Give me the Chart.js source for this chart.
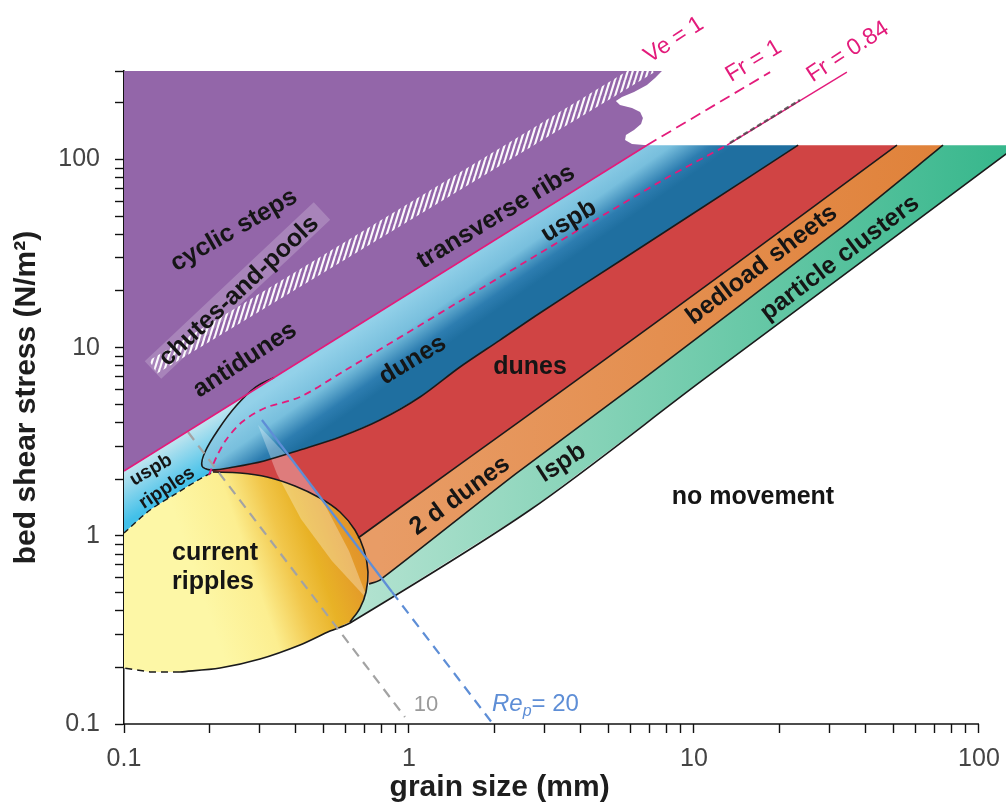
<!DOCTYPE html>
<html>
<head>
<meta charset="utf-8">
<script src="https://cdn.jsdelivr.net/npm/chart.js@4.4.1/dist/chart.umd.min.js"></script>
<style>
  html, body { margin: 0; padding: 0; background: #fff; }
</style>
</head>
<body>
<canvas id="chart" width="1006" height="803"></canvas>
<script>
// Bedform stability fields: grain size (mm) vs bed shear stress (N/m2)

// --- axes ---
const xRange = [0.1, 124.4];          // plot runs a bit past 100 mm
const yRange = [0.1, 295];
const majorTicks = [0.1, 1, 10, 100];
const minorSteps = [2, 3, 4, 5, 6, 7, 8, 9];

// --- boundaries, [grain size mm, shear stress N/m2] ---
const pinkLine = [[0.1, 2.21], [6.84, 119]];
const fr1Dashed = [[6.84, 119], [18.5, 291]];
const purpleEdge = [[7.72, 295], [7.30, 270.7], [6.84, 248.5], [6.16, 228.1], [5.59, 214.6], [5.32, 204.3], [5.50, 194.5], [6.06, 187.6], [6.47, 178.6], [6.62, 166], [6.52, 154.2], [6.16, 143.3], [5.77, 134.8], [5.73, 126.8], [6.06, 120.7], [6.84, 119]];
const duneBase = [[23.2, 119], [10.5, 54.5], [5.50, 28.85], [2.881, 15.28], [2.086, 10.97], [1.51, 7.89], [1.093, 5.464], [0.791, 4.124], [0.5728, 3.35], [0.4145, 2.857], [0.3099, 2.498], [0.2432, 2.321], [0.2019, 2.237]];
const tongueTip = [0.1878, 2.349];
const tongueUpper = [[0.1924, 2.788], [0.2137, 3.65], [0.2472, 4.89], [0.2905, 6.18], [0.336, 6.94]];
const redBase = [[51.55, 119], [14.16, 28.1], [3.886, 6.73], [1.547, 2.466], [0.6627, 0.9735]];
const orangeBase = [[74.8, 119], [32.5, 42.7], [6.57, 6.73], [2.393, 2.157], [0.791, 0.582], [0.7238, 0.5546]];
const greenBase = [[137, 119], [10.75, 6.73], [2.658, 1.371], [0.6209, 0.344]];
const rippleUpperLeft = [[0.1, 1.035], [0.1234, 1.371], [0.1535, 1.688], [0.1848, 2.004], [0.2052, 2.183]];
const rippleRight = [[0.2052, 2.183], [0.2553, 2.157], [0.3176, 2.053], [0.398, 1.839], [0.4873, 1.588], [0.5728, 1.338], [0.6462, 1.073], [0.6952, 0.8406], [0.7180, 0.6422], [0.7067, 0.5028], [0.6732, 0.4134], [0.6209, 0.348]];
const rippleBase = [[0.5283, 0.312], [0.4145, 0.263], [0.3001, 0.2215], [0.2172, 0.1984], [0.1572, 0.189], [0.1234, 0.189], [0.1, 0.1984]];
const fr084Dashed = [[0.1987, 2.104], [0.2103, 2.591], [0.228, 3.228], [0.2594, 4.025], [0.3124, 4.776], [0.4145, 5.464], [0.5913, 7.51], [2.086, 23.7], [7.78, 77.7], [13.06, 119]];
const fr084Solid = [[13.06, 119], [34.4, 291]];
const fr084Grey = [[13.37, 122.3], [23.55, 206.9]];
const rep10 = [[0.1677, 3.56], [0.968, 0.1089]];
const rep20Solid = [[0.3048, 4.124], [0.8717, 0.5028]];
const rep20Dashed = [[0.8717, 0.5028], [1.971, 0.1]];
const stepHatch = [[0.1265, 7.89], [7.01, 313.6]];
const chutesBox = [[0.1264, 7.60], [0.495, 53.2]];
const transition = [[0.2953, 3.88], [0.3949, 2.437], [0.5074, 1.458], [0.616, 0.8301], [0.718, 0.456], [0.5369, 0.7348], [0.4178, 1.228], [0.3441, 2.13]];

// --- labels: text, grain size, shear stress, angle ---
const fieldLabels = [
  ['cyclic steps', 0.243, 42.0, -30],
  ['chutes-and-pools', 0.2532, 20.0, -43],
  ['antidunes', 0.2658, 8.59, -33],
  ['transverse ribs', 2.02, 49.5, -31],
  ['uspb', 3.64, 47.0, -31],
  ['dunes', 1.03, 8.59, -31],
  ['dunes', 2.658, 7.89, 0],
  ['bedload sheets', 17.3, 27.5, -37],
  ['particle clusters', 32.5, 29.9, -37],
  ['2 d dunes', 1.51, 1.63, -36],
  ['lspb', 3.44, 2.437, -33],
  ['no movement', 16.1, 1.608, 0]
];
const rippleLabels = [['current', 0.1474, 0.81], ['ripples', 0.1474, 0.568]];
const smallLabels = [['uspb', 0.1244, 2.237, -30], ['ripples', 0.1415, 1.795, -33]];
const lineLabels = [['Ve = 1', 8.51, 431, -33], ['Fr = 1', 16.2, 333, -31], ['Fr = 0.84', 34.7, 372, -33]];
const rep10Label = ['10', 1.147, 0.1262];
const rep20Label = [1.955, 0.1293];

const PINK = '#e31b7b';
const FONT = "'Liberation Sans', Arial, Helvetica, sans-serif";

const xTicks = [];
const yTicks = [];
majorTicks.forEach(m => {
  [1, ...minorSteps].forEach(s => {
    const v = m * s;
    if (v <= 100.001) xTicks.push(v);
    if (v < yRange[1]) yTicks.push(v);
  });
});
yTicks.push(yRange[1]);

function pts(arr) { return arr.map(([x, y]) => ({ x, y })); }

// gradient between two data points
function grad(stops, a, b) {
  return (c) => {
    const chart = c.chart;
    const { x, y } = chart.scales;
    if (!chart.chartArea || !x || !y) return stops[0][1];
    const g = chart.ctx.createLinearGradient(
      x.getPixelForValue(a[0]), y.getPixelForValue(a[1]),
      x.getPixelForValue(b[0]), y.getPixelForValue(b[1]));
    stops.forEach(([o, col]) => g.addColorStop(o, col));
    return g;
  };
}

function hatchPattern() {
  const tile = document.createElement('canvas');
  tile.width = 5; tile.height = 16;
  const t = tile.getContext('2d');
  t.strokeStyle = 'rgba(255,255,255,0.97)';
  t.lineWidth = 2.1;
  [-5, 0, 5].forEach(off => {
    t.beginPath(); t.moveTo(off, 16); t.lineTo(off + 5, 0); t.stroke();
  });
  return t.createPattern(tile, 'repeat');
}

function area(points, color) {
  return { type: 'line', data: pts(points), fill: 'shape', backgroundColor: color,
    borderWidth: 0, pointRadius: 0, tension: 0 };
}
function line(points, color, width, extra) {
  return Object.assign({ type: 'line', data: pts(points), fill: false, borderColor: color,
    borderWidth: width, pointRadius: 0, tension: 0 }, extra || {});
}

const rev = a => a.slice().reverse();

const purplePoly = [[0.1, 295], ...purpleEdge, [0.1, 2.21]];
const bluePoly = [[0.336, 6.94], [6.84, 119], ...duneBase, tongueTip, ...tongueUpper];
const cyanPoly = [[0.1, 2.21], ...rev(tongueUpper), tongueTip, ...rev(rippleUpperLeft)];
const redPoly = [...duneBase, ...rippleRight.slice(0, 7), ...rev(redBase)];
const orangePoly = [...redBase, rippleRight[7], rippleRight[8], ...rev(orangeBase)];
const greenPoly = [...orangeBase, rippleRight[9], rippleRight[10], ...rev(greenBase)];
const ripplePoly = [...rippleUpperLeft, ...rippleRight.slice(1), ...rippleBase];

// paint order: bottom first
const layers = [
  area(greenPoly, grad([[0, '#b4e3d1'], [1, '#37b78c']], [0.62, 1], [124.4, 1])),
  area(orangePoly, grad([[0, '#e89c66'], [1, '#e0823a']], [0.79, 1], [73, 1])),
  area(redPoly, '#d04444'),
  area(bluePoly, grad([[0, '#93d1e9'], [0.35, '#78bfdd'], [0.62, '#2d7db0'], [0.78, '#1f6fa0'], [1, '#1f6fa0']], [0.930, 18.1], [1.36, 7.9])),
  area(cyanPoly, grad([[0, '#c0e5ef'], [1, '#42c0e9']], [0.1234, 2.694], [0.1495, 1.688])),
  area(ripplePoly, grad([[0, '#fdf7a6'], [0.3, '#fcee90'], [0.5, '#f1c64a'], [0.65, '#e8b226'], [0.85, '#e3982a'], [1, '#de8b2d']], [0.1704, 0.7437], [0.7006, 1.55])),
  area(transition, 'rgba(255,255,255,0.3)'),
  area(purplePoly, '#9366a9'),
  line(chutesBox, 'rgba(255,255,255,0.2)', 24),
  line(stepHatch, hatchPattern(), 15, { clip: 0 }),
  // black field boundaries
  line([...duneBase, tongueTip, ...tongueUpper], '#1a1a1a', 1.6, { tension: 0.3 }),
  line(redBase, '#1a1a1a', 1.6, { tension: 0.2 }),
  line(orangeBase, '#1a1a1a', 1.6, { tension: 0.2 }),
  line([...greenBase, ...rippleBase.slice(0, 5)], '#1a1a1a', 1.6, { tension: 0.3 }),
  line(rippleBase.slice(4), '#1a1a1a', 1.6, { borderDash: [7, 5] }),
  line(rippleRight, '#1a1a1a', 1.6, { tension: 0.35 }),
  line(rippleUpperLeft, '#1a1a1a', 1.4, { tension: 0.3, borderDash: [6, 4] }),
  // Reynolds lines
  line(rep10, '#a3a3a3', 2.2, { borderDash: [10, 7] }),
  line(rep20Solid, '#5e8ed6', 2.2),
  line(rep20Dashed, '#5e8ed6', 2.2, { borderDash: [10, 7], clip: false }),
  // Froude lines
  line(pinkLine, PINK, 1.6),
  line(fr1Dashed, PINK, 1.8, { borderDash: [11, 6] }),
  line(fr084Dashed, PINK, 1.8, { tension: 0.3, borderDash: [7, 5] }),
  line(fr084Solid, PINK, 1.4),
  line(fr084Grey, 'rgba(70,70,70,0.8)', 2.4, { borderDash: [5, 3] }),
  // x axis line, stops at 100 mm
  line([[0.1, 0.1], [100, 0.1]], '#111', 1.5, { clip: false })
];

const overlay = {
  id: 'overlay',
  afterDraw(chart) {
    const { ctx, chartArea, scales: { x, y } } = chart;
    const put = (text, gx, gy, deg, font, color, align) => {
      ctx.save();
      ctx.translate(x.getPixelForValue(gx), y.getPixelForValue(gy));
      ctx.rotate(deg * Math.PI / 180);
      ctx.font = font;
      ctx.fillStyle = color;
      ctx.textAlign = align || 'center';
      ctx.textBaseline = 'middle';
      ctx.fillText(text, 0, 0);
      ctx.restore();
    };
    fieldLabels.forEach(([t, gx, gy, a]) => put(t, gx, gy, a, `bold 25px ${FONT}`, '#151515'));
    rippleLabels.forEach(([t, gx, gy]) => put(t, gx, gy, 0, `bold 25px ${FONT}`, '#151515', 'left'));
    smallLabels.forEach(([t, gx, gy, a]) => put(t, gx, gy, a, `bold 19px ${FONT}`, '#151515'));
    lineLabels.forEach(([t, gx, gy, a]) => put(t, gx, gy, a, `23px ${FONT}`, PINK));
    put(rep10Label[0], rep10Label[1], rep10Label[2], 0, `22px ${FONT}`, '#9a9a9a');

    // Re_p = 20 with italic subscript
    ctx.save();
    ctx.fillStyle = '#5e8ed6';
    ctx.textBaseline = 'alphabetic';
    let px = x.getPixelForValue(rep20Label[0]);
    const base = y.getPixelForValue(rep20Label[1]) + 8;
    ctx.font = `italic 24px ${FONT}`;
    ctx.fillText('Re', px, base); px += ctx.measureText('Re').width;
    ctx.font = `italic 16px ${FONT}`;
    ctx.fillText('p', px, base + 5); px += ctx.measureText('p').width;
    ctx.font = `24px ${FONT}`;
    ctx.fillText('= 20', px, base);
    ctx.restore();

    // axis titles
    ctx.save();
    ctx.fillStyle = '#1e1e1e';
    ctx.font = `bold 30px ${FONT}`;
    ctx.textAlign = 'center';
    ctx.textBaseline = 'middle';
    ctx.fillText('grain size (mm)', x.getPixelForValue(2.08), chartArea.bottom + 64);
    ctx.translate(27, (chartArea.top + chartArea.bottom) / 2);
    ctx.rotate(-Math.PI / 2);
    ctx.fillText('bed shear stress (N/m²)', 0, 0);
    ctx.restore();
  }
};

const tickLabel = v => (majorTicks.includes(v) ? String(v) : '');

new Chart(document.getElementById('chart'), {
  type: 'scatter',
  data: { datasets: layers.slice().reverse() },
  options: {
    responsive: false,
    animation: false,
    events: [],
    layout: { padding: { top: 71, right: 0, bottom: 0, left: 0 } },
    plugins: { legend: { display: false }, tooltip: { enabled: false } },
    scales: {
      x: {
        type: 'logarithmic', min: xRange[0], max: xRange[1], z: 1,
        afterBuildTicks: s => { s.ticks = xTicks.map(v => ({ value: v })); },
        afterFit: s => { s.height = 79; s.paddingLeft = 0; s.paddingRight = 0; },
        ticks: { autoSkip: false, maxRotation: 0, minRotation: 0, padding: 11, color: '#444',
          font: { family: FONT, size: 25 }, callback: tickLabel },
        grid: { drawOnChartArea: false, drawTicks: true, tickLength: 9, tickColor: '#111', tickWidth: 1.4 },
        border: { display: false }
      },
      y: {
        type: 'logarithmic', min: yRange[0], max: yRange[1], z: 1,
        afterBuildTicks: s => { s.ticks = yTicks.map(v => ({ value: v })); },
        afterFit: s => { s.width = 124; s.paddingTop = 0; s.paddingBottom = 0; },
        ticks: { autoSkip: false, padding: 15, color: '#444',
          font: { family: FONT, size: 25 }, callback: tickLabel },
        grid: { drawOnChartArea: false, drawTicks: true, tickLength: 9, tickColor: '#111', tickWidth: 1.4 },
        border: { display: true, color: '#111', width: 1.5 }
      }
    }
  },
  plugins: [overlay]
});
</script>
</body>
</html>
